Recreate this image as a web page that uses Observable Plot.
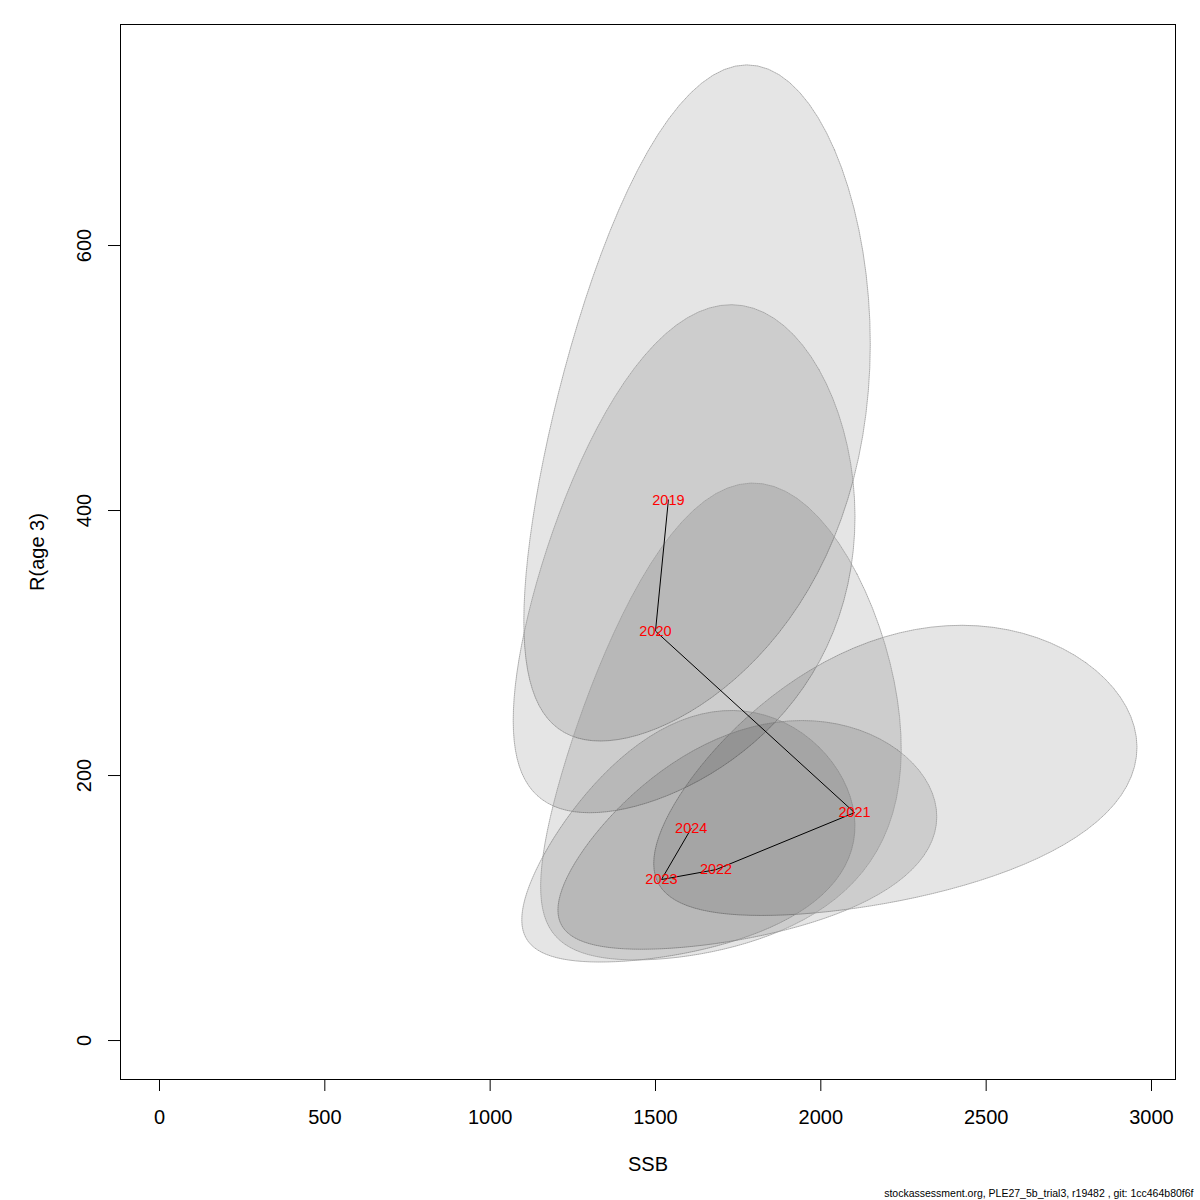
<!DOCTYPE html>
<html>
<head>
<meta charset="utf-8">
<script src="https://cdn.jsdelivr.net/npm/d3@7"></script>
<script src="https://cdn.jsdelivr.net/npm/@observablehq/plot@0.6"></script>
<style>
  html, body { margin: 0; padding: 0; background: #ffffff; }
  #chart { width: 1200px; height: 1200px; }
</style>
</head>
<body>
<div id="chart"></div>
<script>
// ---- data ----
const years = [2019, 2020, 2021, 2022, 2023, 2024];
const ssb = [1539, 1500, 2102, 1683, 1518, 1608];
const rec = [408, 309, 172, 129, 121.5, 160];
// log-scale standard deviations and correlation (95% confidence ellipses)
const sdLogSSB = [0.1365, 0.1381, 0.1393, 0.1365, 0.1332, 0.1360];
const sdLogR = [0.2412, 0.2395, 0.2451, 0.2562, 0.2933, 0.3950];
const corLog = [0.43, 0.42, 0.42, 0.43, 0.40, 0.33];
const xTicks = [0, 500, 1000, 1500, 2000, 2500, 3000];
const yTicks = [0, 200, 400, 600];
const xDomain = [-117.9, 3072.6];
const yDomain = [-29.4, 766.8];
const footer = "stockassessment.org, PLE27_5b_trial3, r19482 , git: 1cc464b80f6f";

// ---- layout ----
const W = 1200, H = 1200;
const mL = 120, mR = 25, mT = 24, mB = 121;
const frameW = W - mL - mR, frameH = H - mT - mB;
const tickLen = 12;

// ---- build tables ----
const pts = years.map((y, i) => ({year: y, ssb: ssb[i], rec: rec[i]}));
const radius = Math.sqrt(-2 * Math.log(0.05)); // sqrt(qchisq(0.95, 2))
const nPts = 100;
const ell = [];
years.forEach((yr, i) => {
  const d = Math.acos(corLog[i]);
  const cx = Math.log(ssb[i]), cy = Math.log(rec[i]);
  for (let k = 0; k <= nPts; k++) {
    const a = (2 * Math.PI * k) / nPts;
    ell.push({
      year: yr,
      x: Math.exp(cx + radius * sdLogSSB[i] * Math.cos(a + d / 2)),
      y: Math.exp(cy + radius * sdLogR[i] * Math.cos(a - d / 2))
    });
  }
});

const font = "'Liberation Sans', Arial, Helvetica, sans-serif";

const chart = Plot.plot({
  width: W,
  height: H,
  marginLeft: mL,
  marginRight: mR,
  marginTop: mT,
  marginBottom: mB,
  style: {background: "#ffffff", fontFamily: font, color: "black"},
  x: {domain: xDomain, axis: null},
  y: {domain: yDomain, axis: null},
  marks: [
    Plot.line(ell, {
      x: "x", y: "y", z: "year",
      fill: "black", fillOpacity: 0.1,
      stroke: "#9a9a9a", strokeWidth: 0.8, strokeDasharray: "1,1",
      curve: "linear"
    }),
    Plot.line(pts, {x: "ssb", y: "rec", stroke: "black", strokeWidth: 1}),
    Plot.text(pts, {x: "ssb", y: "rec", text: d => String(d.year), fill: "red", fontSize: 14.5, fontFamily: font}),
    Plot.frame({stroke: "black", strokeWidth: 1}),
    // x ticks: below the frame
    Plot.ruleX(xTicks, {x: d => d, insetTop: frameH, insetBottom: -tickLen, stroke: "black", strokeWidth: 1}),
    // y ticks: left of the frame
    Plot.ruleY(yTicks, {y: d => d, insetLeft: -tickLen, insetRight: frameW, stroke: "black", strokeWidth: 1}),
    Plot.text(xTicks, {x: d => d, text: d => String(d), frameAnchor: "bottom", lineAnchor: "middle", dy: 38, fontSize: 20, fill: "black"}),
    Plot.text(yTicks, {y: d => d, text: d => String(d), frameAnchor: "left", textAnchor: "middle", lineAnchor: "middle", dx: -36, rotate: -90, fontSize: 20, fill: "black"}),
    Plot.text(["SSB"], {frameAnchor: "bottom", lineAnchor: "middle", dy: 85, fontSize: 20, fill: "black", text: d => d}),
    Plot.text(["R(age 3)"], {frameAnchor: "left", textAnchor: "middle", lineAnchor: "middle", dx: -83, rotate: -90, fontSize: 20, fill: "black", text: d => d}),
    Plot.text([footer], {frameAnchor: "bottom-right", lineAnchor: "middle", dx: 18, dy: 114, textAnchor: "end", fontSize: 10.5, fill: "black", text: d => d})
  ]
});

document.getElementById("chart").appendChild(chart);
</script>
</body>
</html>
